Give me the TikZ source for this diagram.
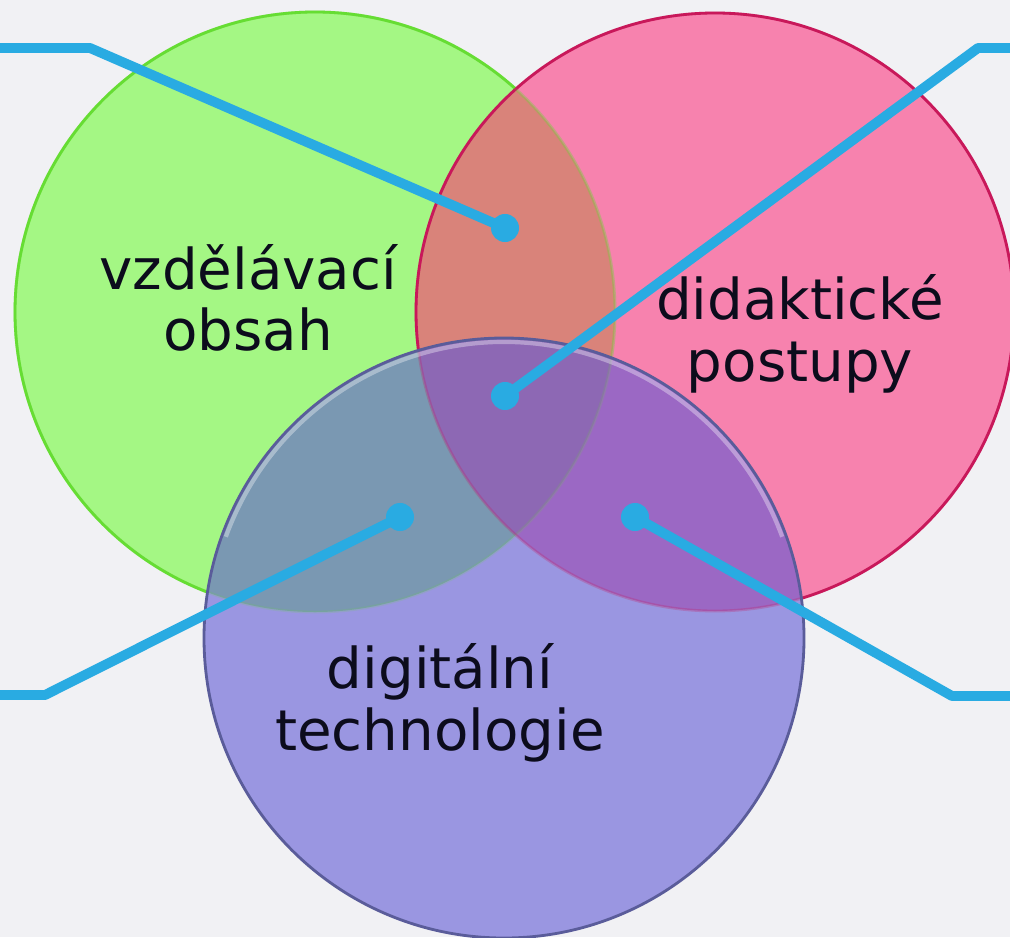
\documentclass[tikz,border=0pt]{standalone}
\usepackage{fontspec}
\setmainfont{DejaVu Sans}
\definecolor{bgcol}{HTML}{F1F1F4}
\definecolor{obsah}{HTML}{A4F784}
\definecolor{postup}{HTML}{F782AE}
\definecolor{techno}{HTML}{9A96E1}
\definecolor{ObsPos}{HTML}{D9837A}
\definecolor{ObsTech}{HTML}{7A98B2}
\definecolor{PosTech}{HTML}{9B68C4}
\definecolor{vsechny}{HTML}{8D68B4}
\definecolor{spojka}{HTML}{29ABE2}
\definecolor{pismo}{HTML}{0C0C1C}
\definecolor{okrajO}{HTML}{66DD33}
\definecolor{okrajP}{HTML}{C8185A}
\definecolor{okrajT}{HTML}{5A5C9A}
\begin{document}
\begin{tikzpicture}[x=0.01cm,y=-0.01cm,
  kruh/.style={line width=0.8pt},
  popis/.style={text=pismo,font=\fontsize{16}{17.5}\selectfont,align=center},
  spoj/.style={spojka,line width=2.8pt,line join=round},
  tecka/.style={circle,fill=spojka,inner sep=0pt,minimum size=0.28cm}]
 \useasboundingbox[fill=bgcol] (0,0) rectangle (1010,937);
 % zeleny a ruzovy kruh
 \fill[obsah] (315,312) circle (300);
 \draw[kruh,okrajO] (315,312) circle (300);
 \fill[postup] (715,312) circle (299);
 \begin{scope}
  \clip (315,312) circle (300);
  \fill[ObsPos] (715,312) circle (299);
 \end{scope}
 \draw[kruh,okrajO,opacity=0.25] (315,312) circle (300);
 \draw[kruh,okrajP] (715,312) circle (299);
 % modry kruh a prekryvy
 \fill[techno] (504,638) circle (300);
 \begin{scope}
  \clip (315,312) circle (300);
  \fill[ObsTech] (504,638) circle (300);
 \end{scope}
 \begin{scope}
  \clip (715,312) circle (299);
  \fill[PosTech] (504,638) circle (300);
  \clip (315,312) circle (300);
  \fill[vsechny] (504,638) circle (300);
 \end{scope}
 \draw[kruh,okrajO,opacity=0.15] (315,312) circle (300);
 \draw[kruh,okrajP,opacity=0.25] (715,312) circle (299);
 \draw[kruh,okrajT] (504,638) circle (300);
 \draw[line width=1.2pt,white,opacity=0.35] (504,638) ++(200:296) arc (200:340:296);
 % popisky
 \node[popis] (obsah) at (248,298) {vzdělávací\\obsah};
 \node[popis] (postupy) at (800,334) {didaktické\\postupy};
 \node[popis] (techno) at (440,703) {digitální\\technologie};
 % spojnice
 \node[tecka] (t1) at (505,228) {};
 \node[tecka] (t2) at (505,396) {};
 \node[tecka] (t3) at (400,517) {};
 \node[tecka] (t4) at (635,517) {};
 \coordinate (k1a) at (0,48);
 \coordinate (k1b) at (90,48);
 \coordinate (k2a) at (1010,48);
 \coordinate (k2b) at (978,48);
 \coordinate (k3a) at (0,695);
 \coordinate (k3b) at (45,695);
 \coordinate (k4a) at (1010,696);
 \coordinate (k4b) at (952,696);
 \draw[spoj] (k1a) -- (k1b) -- (t1.center);
 \draw[spoj] (k2a) -- (k2b) -- (t2.center);
 \draw[spoj] (k3a) -- (k3b) -- (t3.center);
 \draw[spoj] (k4a) -- (k4b) -- (t4.center);
\end{tikzpicture}
\end{document}
